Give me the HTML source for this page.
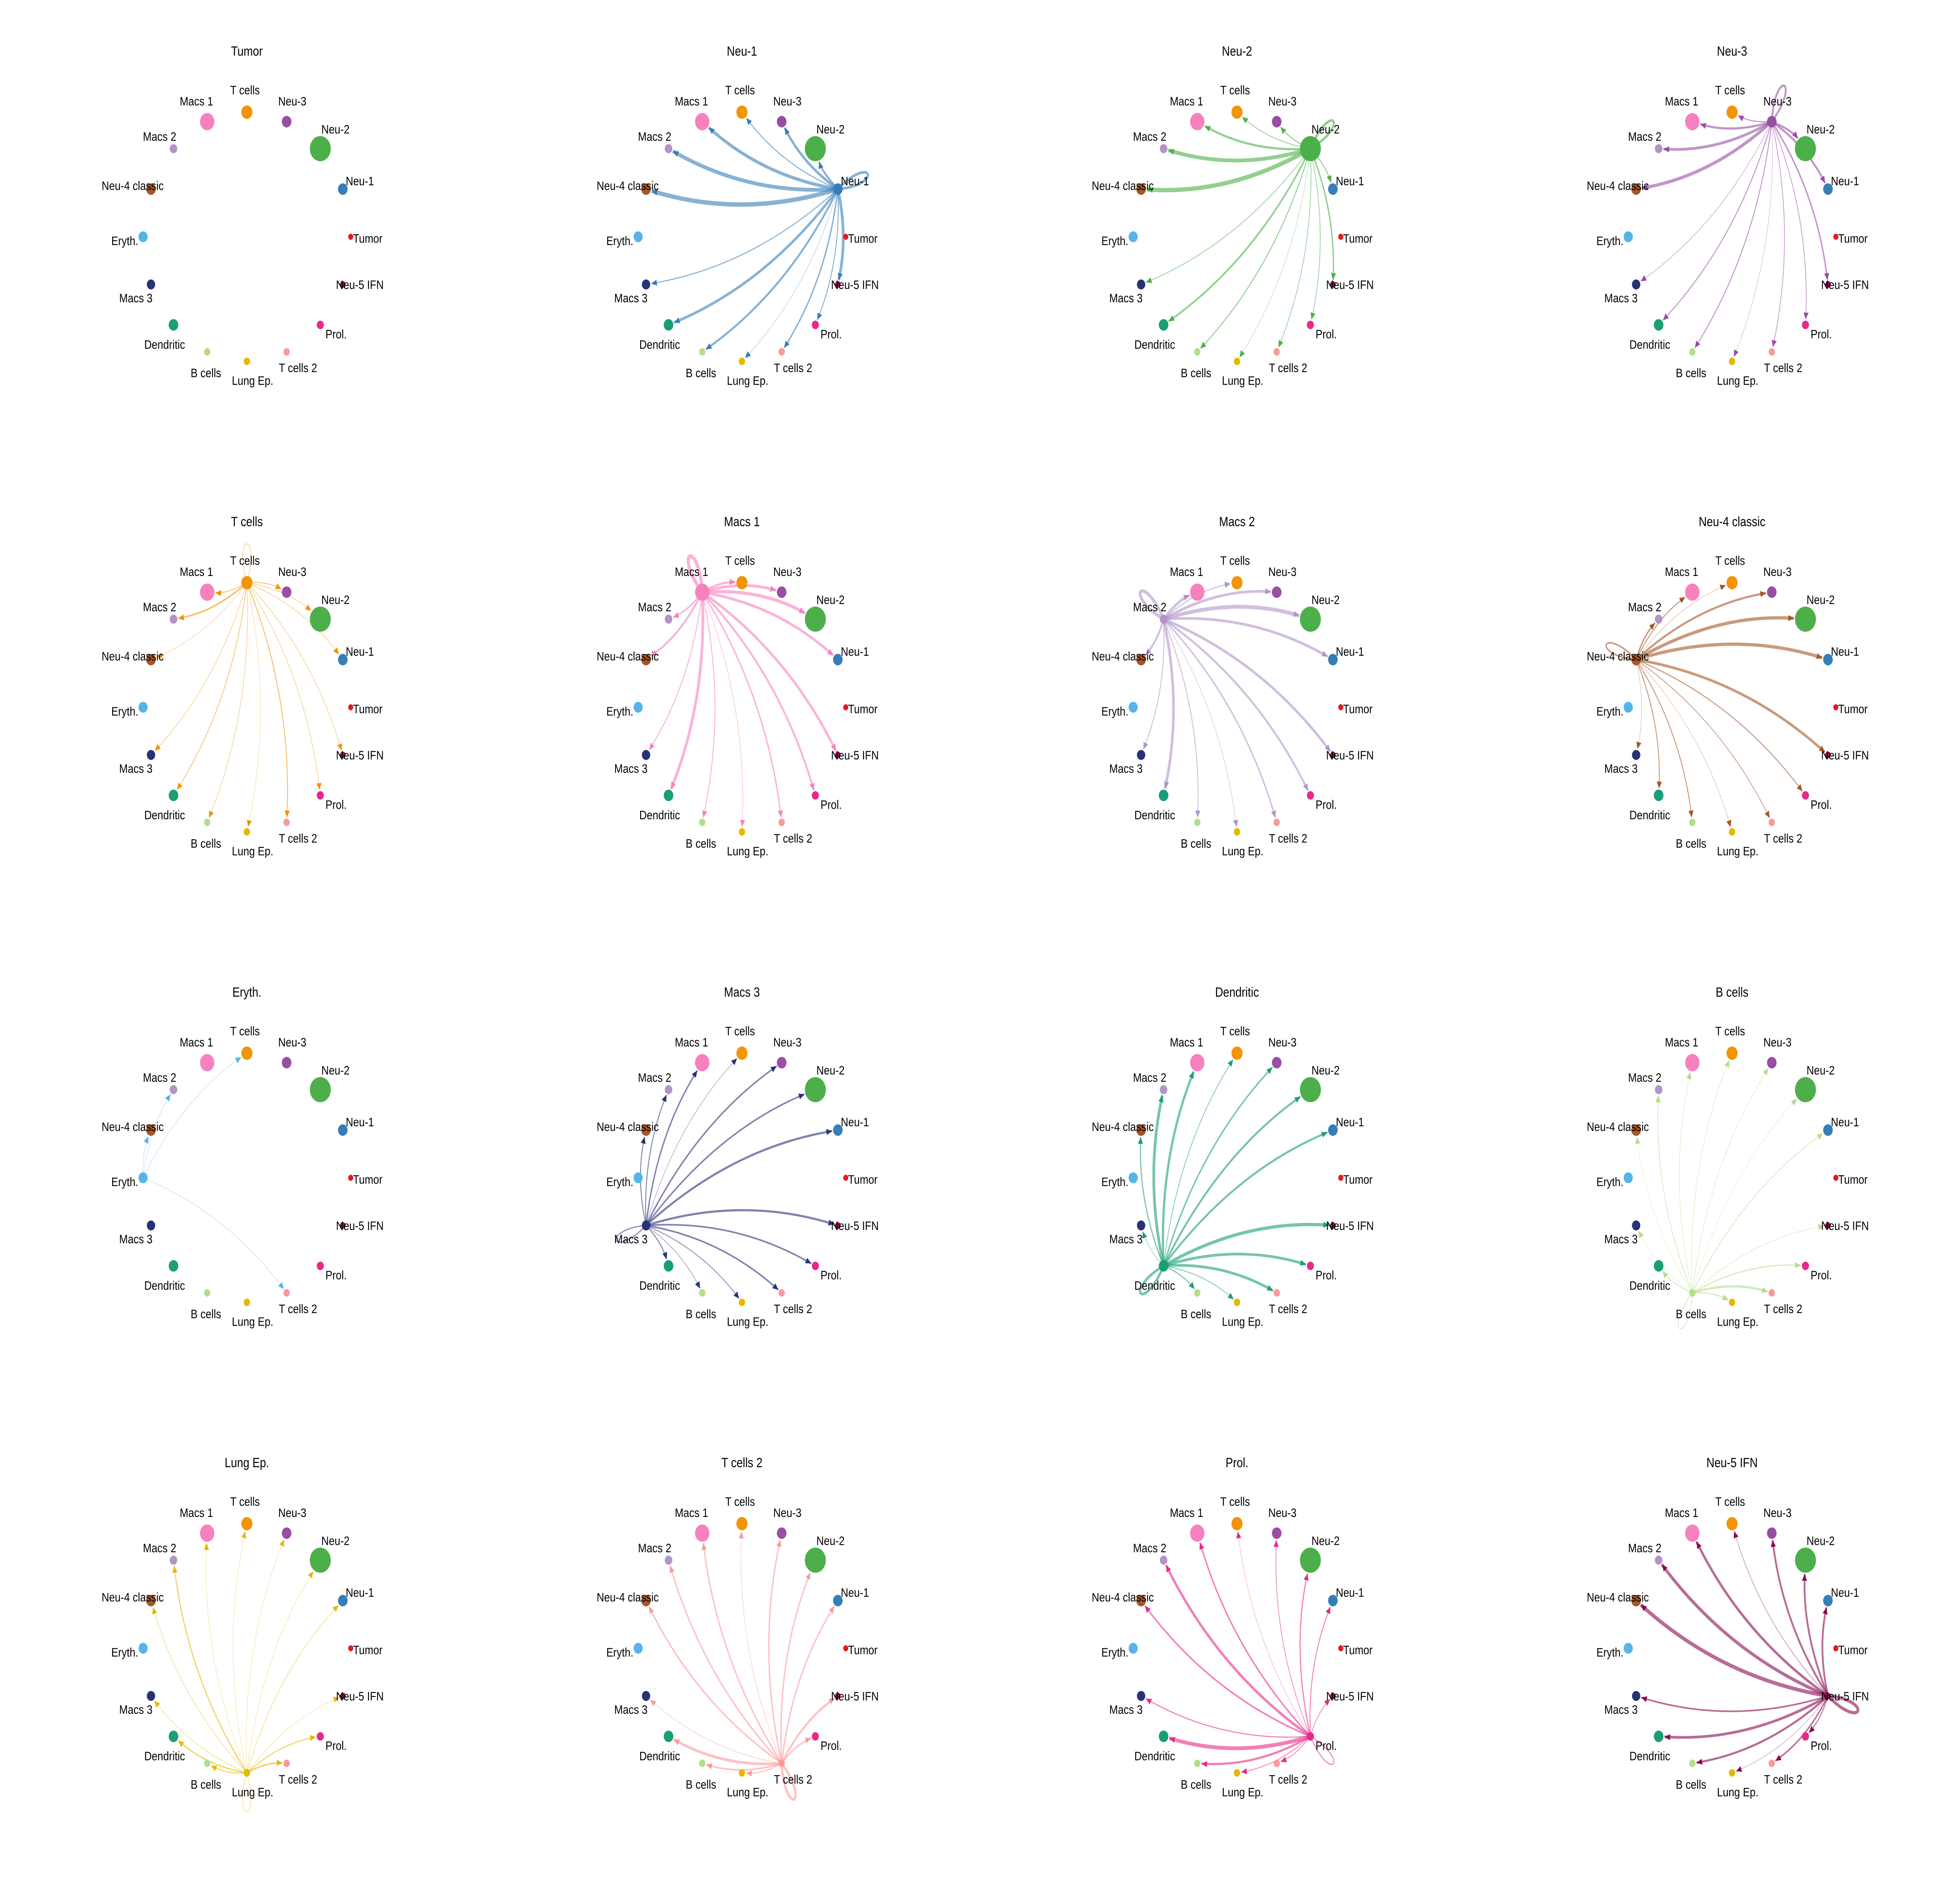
<!DOCTYPE html>
<html><head><meta charset="utf-8"><style>
html,body{margin:0;padding:0;background:#fff;width:100vw;height:100vh;overflow:hidden;}
svg{display:block;position:absolute;left:0;top:0;width:100vw;height:100vh;}
text{font-family:"Liberation Sans",Arial,sans-serif;fill:#000;}
</style></head><body>
<svg id="root" xmlns="http://www.w3.org/2000/svg" viewBox="0 0 1552 1241.6" preserveAspectRatio="none">
<defs id="defs"></defs>
<rect x="0" y="0" width="1552" height="1241.6" fill="#fff"/>
<g id="chart"></g>
</svg>
<script>
// Node order (clockwise from top)
const cellTypes = ["T cells","Neu-3","Neu-2","Neu-1","Tumor","Neu-5 IFN","Prol.","T cells 2","Lung Ep.","B cells","Dendritic","Macs 3","Eryth.","Neu-4 classic","Macs 2","Macs 1"];
const cellColors = ["#F29403","#984EA3","#4DAF4A","#377EB8","#E41A1C","#8B0A50","#E7298A","#FB9A99","#E6B800","#B2DF8A","#1B9E77","#283276","#56B4E9","#A65628","#B294C7","#F781BF"];
const cellSizes = [4.4,3.8,8.3,3.8,2,2.2,2.8,2.5,2.5,2.5,3.8,3.3,3.6,3.8,3,5.7];

// Panel order: source cell type index for each panel (row-major)
const panelSources = [4,3,2,1,0,15,14,13,12,11,10,9,8,7,6,5];

// Interaction weights from each source to targets (target order = cellTypes)
const wTcells    = [1,1.5,1,1,0,1,1,2,0.5,1,1.5,1,0,0.5,3,1.5];
const wNeu3      = [2,4,4,4,0,3,1.5,1.5,0.4,2,2,1,0,6,5,4];
const wNeu2      = [1.5,2,5,2,0,3,1.5,1.5,0.4,2,3.5,1.5,0,8,7,4];
const wNeu1      = [2,5,4,5,0,6,2,3,0.4,4,5,2,0,8,7,6];
const wTumor     = [0,0,0,0,0,0,0,0,0,0,0,0,0,0,0,0];
const wNeu5IFN   = [1,4,4,4,0,6,2,3,0.5,4,5,3,0,7,6,5];
const wProl      = [0.5,1.5,2.5,2,0,1.5,2,1.5,1.5,4,7,2,0,3,5,3];
const wTcells2   = [1,3,3,3,0,4,3,5,2,3,5,1,0,3,3,3];
const wLungEp    = [0.5,0.5,0.5,1,0,0.5,2,3,1,2,2.5,1,0,1,2.5,0.5];
const wBcells    = [1,1,0.5,1.5,0,1,2,4,2,1.5,1.5,0.5,0,0.3,1.5,1];
const wDendritic = [1.5,3,4,4,0,6,5,5,1.5,2,5,1,0,2.5,6,5];
const wMacs3     = [0.8,3,3,4,0,4,3,3,1.5,1,2,2,0,2,2,3];
const wEryth     = [0.5,0,0,0,0,0,0,0.5,0,0,0,0,0,0.3,0.5,0];
const wNeu4      = [0.5,4,6,6,0,5,2,1.5,0.5,2,2,0.5,0,3,3,2];
const wMacs2     = [2,5,7,5,0,5,4,3,1,2,6,2,0,4,6,5];
const wMacs1     = [4,5,6,5,0,5,4,3,1,2,6,2,0,4,3,7];
const weightsBySource = [wTcells,wNeu3,wNeu2,wNeu1,wTumor,wNeu5IFN,wProl,wTcells2,wLungEp,wBcells,wDendritic,wMacs3,wEryth,wNeu4,wMacs2,wMacs1];

const NS = "http://www.w3.org/2000/svg";
const svg = document.getElementById("chart");
const defs = document.getElementById("defs");
const R = 82.2, CX0 = 195.5, CY0 = 156.2, DX = 392, DY = 310.4;
const WIDTH_SCALE = 0.36, CURV = 0.13;
const labelDX = [-1.5,4.5,12,13.5,13.5,13.5,12.5,9,4.5,-1,-7,-12,-14.5,-14.5,-11,-8.5];
const labelDY = [-14.3,-13.2,-12.5,-5,1.4,0.5,6.4,10.8,13,14.2,13.2,9.2,3,-2,-7.7,-13.2];

function xScale(col){ return CX0 + DX*col; }
function yScale(row){ return CY0 + DY*row; }
function nodePos(cx, cy, i){
  const a = (-90 + 22.5*i) * Math.PI/180;
  return [cx + R*Math.cos(a), cy + R*Math.sin(a), a];
}
function mk(tag, attrs){ const e = document.createElementNS(NS, tag); for (const k in attrs) e.setAttribute(k, attrs[k]); return e; }

cellColors.forEach((c, i) => {
  const m = mk("marker", {id:"arr"+i, markerWidth:"4.5", markerHeight:"4", refX:"4.5", refY:"2", orient:"auto", markerUnits:"userSpaceOnUse", viewBox:"0 0 4.5 4"});
  m.appendChild(mk("path", {d:"M0,0 L4.5,2 L0,4 Z", fill:c}));
  defs.appendChild(m);
});

panelSources.forEach((src, p) => {
  const col = p % 4, row = Math.floor(p / 4);
  const cx = xScale(col), cy = yScale(row);
  const g = mk("g", {});
  
  
  svg.appendChild(g);

  const title = mk("text", {x:cx, y:cy-122.4, "font-size":"8.8", "text-anchor":"middle", "dominant-baseline":"central"});
  title.textContent = cellTypes[src];
  
  
  g.appendChild(title);

  const edges = mk("g", {});
  
  
  g.appendChild(edges);
  const weights = weightsBySource[src];
  const [sx, sy, sa] = nodePos(cx, cy, src);
  const color = cellColors[src];
  weights.forEach((w, t) => {
    if (!(w > 0)) return;
    const sw = Math.max(0.25, w * WIDTH_SCALE);
    let d;
    if (t === src) {
      const L = 36, s1 = sa - 0.32, s2 = sa + 0.32;
      d = `M${sx},${sy} C${sx+L*Math.cos(s1)},${sy+L*Math.sin(s1)} ${sx+L*Math.cos(s2)},${sy+L*Math.sin(s2)} ${sx},${sy}`;
    } else {
      const [tx0, ty0] = nodePos(cx, cy, t);
      const ddx = tx0 - sx, ddy = ty0 - sy;
      const mx = (sx+tx0)/2 + CURV*ddy, my = (sy+ty0)/2 - CURV*ddx;
      const vx = tx0 - mx, vy = ty0 - my, vl = Math.hypot(vx, vy);
      const cut = cellSizes[t] + 0.8;
      const tx = tx0 - vx/vl*cut, ty = ty0 - vy/vl*cut;
      d = `M${sx},${sy} Q${mx},${my} ${tx},${ty}`;
    }
    const path = mk("path", {d:d, fill:"none", stroke:color, "stroke-opacity":"0.6", "stroke-width":sw, "stroke-linecap":"butt"});
    if (t !== src) path.setAttribute("marker-end", "url(#arr"+src+")");
    
    
    edges.appendChild(path);
  });

  cellTypes.forEach((name, i) => {
    const [x, y] = nodePos(cx, cy, i);
    const c = mk("circle", {cx:x, cy:y, r:cellSizes[i], fill:cellColors[i]});
    
    
    g.appendChild(c);
  });
  cellTypes.forEach((name, i) => {
    const [x, y] = nodePos(cx, cy, i);
    const tx = mk("text", {x:x+labelDX[i], y:y+labelDY[i], "font-size":"8.2", "text-anchor":"middle", "dominant-baseline":"central"});
    tx.textContent = name;
    
    
    g.appendChild(tx);
  });
});
</script>
</body></html>
